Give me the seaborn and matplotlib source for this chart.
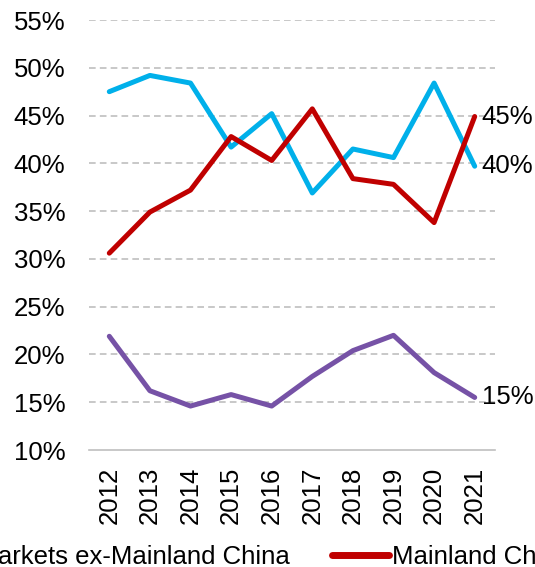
import pandas as pd
import numpy as np
import matplotlib
matplotlib.use('Agg')
import matplotlib.pyplot as plt
import seaborn as sns

years = ['2012', '2013', '2014', '2015', '2016', '2017', '2018', '2019', '2020', '2021']
developed = [47.5, 49.2, 48.4, 41.7, 45.2, 36.9, 41.5, 40.6, 48.4, 39.7]
mainland = [30.6, 34.9, 37.2, 42.8, 40.3, 45.7, 38.4, 37.8, 33.8, 44.9]
emerging_ex = [21.9, 16.2, 14.6, 15.8, 14.6, 17.7, 20.4, 22.0, 18.1, 15.5]
series_names = ['Developed markets', 'Emerging markets ex-Mainland China', 'Mainland China']
end_labels = ['40%', '15%', '45%']
colors = ['#00B0EA', '#7652A6', '#C00000']

rows = []
for name, vals in zip(series_names, [developed, emerging_ex, mainland]):
    for y, v in zip(years, vals):
        rows.append({'year': y, 'share': v, 'series': name})
df = pd.DataFrame(rows)

sns.set_style('white')
plt.rcParams['font.family'] = ['Liberation Sans', 'DejaVu Sans']
plt.rcParams['text.color'] = 'black'
fs = 18.5

fig = plt.figure(figsize=(5.35, 5.67), dpi=100)
ax = fig.add_axes([89 / 535, 1 - 450 / 567, (495 - 89) / 535, (450 - 20) / 567])

sns.lineplot(data=df, x='year', y='share', hue='series', palette=colors,
             hue_order=series_names, linewidth=3.6, ax=ax, legend=False, sort=False)

ax.set_ylim(10, 55)
ax.set_xlim(-0.5, len(years) - 0.5)
ax.set_yticks(np.arange(10, 56, 5))
ax.set_yticklabels([f'{v}%' for v in range(10, 56, 5)])
ax.set_xticks(range(len(years)))
ax.set_xticklabels(years, rotation=90)
ax.set_xlabel('')
ax.set_ylabel('')

# tick marks sit on the boundaries between years
ax.set_xticks(np.arange(-0.5, len(years), 1), minor=True)
ax.tick_params(axis='x', which='major', length=0, pad=12, labelsize=fs, labelcolor='black')
ax.tick_params(axis='x', which='minor', length=5, width=1.2, color='#BFBFBF')
ax.tick_params(axis='y', length=0, pad=17, labelsize=fs, labelcolor='black')

for y in range(15, 56, 5):
    ax.axhline(y, color='#BFBFBF', linestyle=(0, (4, 2.5)), linewidth=1.2, zorder=0)

for s in ['top', 'right', 'left']:
    ax.spines[s].set_visible(False)
ax.spines['bottom'].set_color('#BFBFBF')
ax.spines['bottom'].set_linewidth(1.2)

for vals, lab in zip([developed, emerging_ex, mainland], end_labels):
    ax.annotate(lab, xy=(len(years) - 1, vals[-1]), xytext=(5, 0), textcoords='offset points',
                va='center', ha='left', fontsize=fs, color='black', annotation_clip=False)

handles = [plt.Line2D([], [], color=c, linewidth=5, solid_capstyle='round') for c in colors]
leg_kw = dict(loc='center left', ncol=3, frameon=False, fontsize=fs, handlelength=2.2,
              handletextpad=0.12, columnspacing=1.65, labelcolor='black')
leg = fig.legend(handles, series_names, bbox_to_anchor=(0, 0.018), **leg_kw)

# shift the legend so the last entry lands where the reference has it (partly cut off)
fig.canvas.draw()
x0 = leg.get_texts()[2].get_window_extent().x0
leg.remove()
leg = fig.legend(handles, series_names, bbox_to_anchor=((392 - x0) / 535, 0.018), **leg_kw)

fig.savefig('out.png', dpi=100)
